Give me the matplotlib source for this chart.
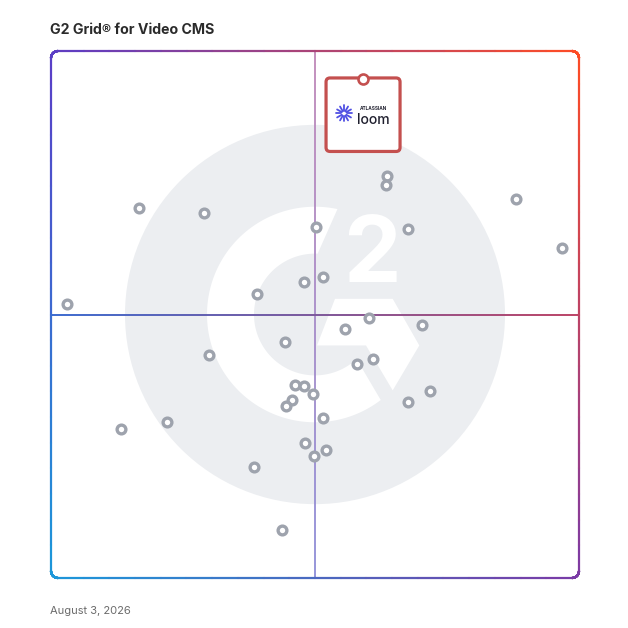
import numpy as np
import matplotlib
matplotlib.use("Agg")
import matplotlib.pyplot as plt
from matplotlib.collections import LineCollection
from matplotlib.patches import Circle, Polygon, FancyBboxPatch
from matplotlib.transforms import IdentityTransform
from matplotlib.colors import to_rgb

plt.rcParams['font.family'] = ['Inter', 'DejaVu Sans']

# G2 grid scores: x = market presence, y = satisfaction (0-100, crosshair at 50)
market_presence = [3.0, 16.7, 29.0, 50.2, 63.6, 63.4, 67.6, 88.0, 96.8, 51.6,
                   48.0, 39.1, 60.2, 70.3, 55.6, 44.3, 29.9, 58.0, 61.0, 46.3,
                   48.0, 49.6, 45.6, 44.6, 71.8, 67.7, 51.6, 22.0, 13.3, 48.1,
                   52.1, 49.8, 38.4, 43.8]
satisfaction = [52.0, 70.3, 69.2, 66.6, 76.3, 74.5, 66.2, 72.0, 62.6, 57.2,
                56.2, 53.9, 49.3, 48.0, 47.2, 44.8, 42.4, 40.6, 41.6, 36.6,
                36.4, 35.0, 33.8, 32.6, 35.5, 33.4, 30.4, 29.6, 28.2, 25.7,
                24.3, 23.2, 21.1, 9.1]
featured_name = "loom"
featured_x = 59.1
featured_y = 94.6

title = "G2 Grid® for Video CMS"
date_label = "August 3, 2026"

# border gradient corners
c_tl = np.array(to_rgb('#5b3dc6'))
c_tr = np.array(to_rgb('#ff4c24'))
c_bl = np.array(to_rgb('#1b98da'))
c_br = np.array(to_rgb('#7b3aa6'))


def field(u, v):
    top = c_tl * (1 - u) + c_tr * u
    bot = c_bl * (1 - u) + c_br * u
    return np.clip(bot * (1 - v) + top * v, 0, 1)


def densify(pts, n=40):
    out = []
    for a, b in zip(pts[:-1], pts[1:]):
        t = np.linspace(0, 1, n, endpoint=False)[:, None]
        out.append(a + (b - a) * t)
    out.append(pts[-1:])
    return np.vstack(out)


fig = plt.figure(figsize=(6.28, 6.28), dpi=100)
ax = fig.add_axes([51 / 628, 50 / 628, 528 / 628, 527 / 628])
ax.set_xlim(0, 100)
ax.set_ylim(0, 100)
ax.axis('off')

# watermark logo
grey = '#eceef1'
k = 5.28  # px per unit
ax.add_patch(Circle((50, 50), 190 / k, color=grey, lw=0, zorder=0))
r_out, r_in = 108 / k, 61 / k
t_out = np.radians(np.linspace(78, 307.5, 120))
t_in = np.radians(np.linspace(313, 87.5, 120))
ring = np.vstack([np.c_[50 + r_out * np.cos(t_out), 50 + r_out * np.sin(t_out)],
                  np.c_[50 + r_in * np.cos(t_in), 50 + r_in * np.sin(t_in)]])
ax.add_patch(Polygon(ring, closed=True, color='white', lw=0, zorder=0.5))
chev = np.array([(20, 15.7), (77.7, 15.7), (104.3, -31), (77.7, -76),
                 (51, -31), (2, -31)]) / k + 50
ax.add_patch(Polygon(chev, closed=True, color='white', lw=0, zorder=0.5))
ax.text(60.7, 56.2, "2", color='white', fontsize=66, fontweight='bold',
        ha='center', va='baseline', zorder=0.6)

# frame with gradient stroke
rx, ry = 7 / 528, 7 / 527
arcs = []
for cx, cy, a0, a1 in [(1 - rx, 1 - ry, 0, 90), (rx, 1 - ry, 90, 180),
                       (rx, ry, 180, 270), (1 - rx, ry, 270, 360)]:
    t = np.radians(np.linspace(a0, a1, 12))
    arcs.append(np.c_[cx + rx * np.cos(t), cy + ry * np.sin(t)])
path = np.vstack(arcs + [arcs[0][:1]])
path = densify(path, 20)
segs = np.stack([path[:-1], path[1:]], axis=1)
mid = segs.mean(axis=1)
cols = [field(u, v) for u, v in mid]
ax.add_collection(LineCollection(segs, colors=cols, linewidths=1.6,
                                 transform=ax.transAxes, clip_on=False,
                                 capstyle='round', zorder=2))

# crosshair
yy = np.linspace(0, 100, 200)
vseg = np.stack([np.c_[np.full(199, 50), yy[:-1]], np.c_[np.full(199, 50), yy[1:]]], axis=1)
top_c, bot_c = np.array(to_rgb('#c088b8')), np.array(to_rgb('#8e8ed8'))
vcols = [bot_c * (1 - m / 100) + top_c * (m / 100) for m in vseg[:, :, 1].mean(axis=1)]
ax.add_collection(LineCollection(vseg, colors=vcols, linewidths=1.3, zorder=1))
xx = np.linspace(0, 100, 200)
hseg = np.stack([np.c_[xx[:-1], np.full(199, 50)], np.c_[xx[1:], np.full(199, 50)]], axis=1)
hcols = [field(m / 100, 0.5) for m in hseg[:, :, 0].mean(axis=1)]
ax.add_collection(LineCollection(hseg, colors=hcols, linewidths=1.4, zorder=1))

# products
ax.plot(market_presence, satisfaction, 'o', ms=6.3, mfc='white', mec='#9ea3ad',
        mew=2.4, zorder=3, clip_on=False)

# featured product card
fig.canvas.draw()
X, Y = ax.transData.transform((featured_x, featured_y))
px = IdentityTransform()
red = '#c4504f'
card = FancyBboxPatch((X - 37, Y - 72), 74, 73.5,
                      boxstyle='round,pad=0,rounding_size=4',
                      fc='white', ec=red, lw=2.3, transform=px,
                      clip_on=False, zorder=4)
ax.add_patch(card)
# loom burst icon
icx, icy = X - 19, Y - 34
for a in np.radians(np.arange(0, 360, 30)):
    ax.add_line(plt.Line2D([icx + 2.6 * np.cos(a), icx + 8.0 * np.cos(a)],
                           [icy + 2.6 * np.sin(a), icy + 8.0 * np.sin(a)],
                           color='#4f4fe3', lw=1.3, solid_capstyle='round',
                           transform=px, clip_on=False, zorder=5))
ax.text(X + 10, Y - 29.5, "ATLASSIAN", fontsize=3.4, transform=px,
        fontweight='bold', color='#1f1f2e', ha='center', va='center', zorder=5)
ax.text(X + 10, Y - 40.5, featured_name, fontsize=10, transform=px,
        fontweight='medium', color='#1f1f2e', ha='center', va='center', zorder=5)
ax.plot([featured_x], [featured_y], 'o', ms=7.2, mfc='white', mec=red, mew=1.9,
        zorder=6, clip_on=False)

# titles
fig.text(50 / 628, 1 - 34.3 / 628, title, fontsize=10.2, fontweight='bold',
         color='#2b2b2b', ha='left', va='baseline')
fig.text(50 / 628, 1 - 613.5 / 628, date_label, fontsize=8.0,
         color='#6b6b6b', ha='left', va='baseline')

fig.savefig('out.png', dpi=100)
